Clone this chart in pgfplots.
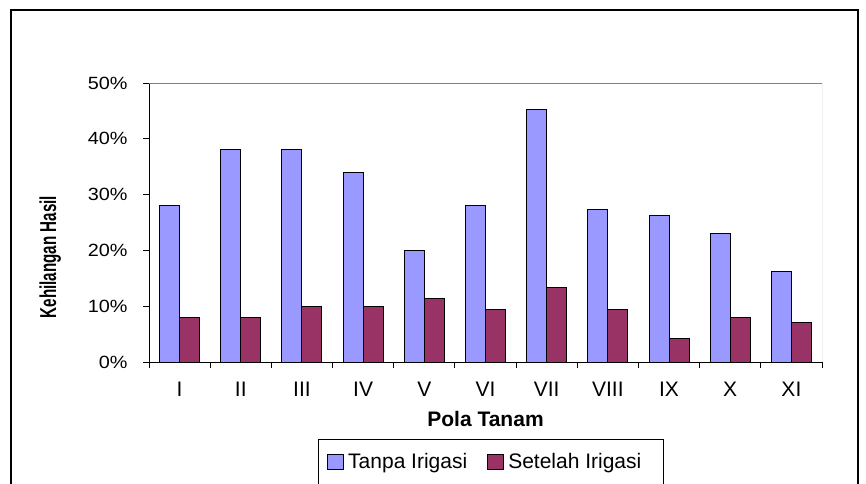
\documentclass[border=0pt]{standalone}
\usepackage{fontspec}
\setmainfont{Liberation Sans}
\newfontfamily\ytfont{Liberation Sans}[FakeStretch=1.12]
\newfontfamily\ylfont{Liberation Sans}[FakeStretch=0.66]
\usepackage{pgfplots}
\pgfplotsset{compat=1.18}
\definecolor{cblue}{HTML}{9999FF}
\definecolor{cmaroon}{HTML}{993366}
\pgfplotsset{sqlegend/.style={legend image code/.code={\draw[##1, line width=0.5pt, draw=black] (0pt,-3.5pt) rectangle (8pt,4pt);}}}
\begin{document}
\begin{tikzpicture}
\useasboundingbox (0,0) rectangle (433pt,-241.5pt);
\clip (0,0) rectangle (433pt,-241.5pt);
\draw[line width=0.65pt] (5.5pt,-260pt) -- (5.5pt,-5pt) -- (429pt,-5pt) -- (429pt,-260pt);
\begin{axis}[
  name=ax,
  at={(74.5pt,-181pt)}, anchor=south west,
  scale only axis, width=336.5pt, height=139.5pt,
  xmin=-0.5, xmax=10.5, ymin=0, ymax=50,
  axis x line*=bottom, axis y line*=left,
  axis line style={line width=0.5pt, -},
  ybar=0pt, bar width=10pt,
  xtick={-0.5,0.5,...,10.5},
  x tick label as interval,
  xticklabels={I,II,III,IV,V,VI,VII,VIII,IX,X,XI},
  ytick={0,10,...,50},
  yticklabels={0\%,10\%,20\%,30\%,40\%,50\%},
  tick align=outside, major tick length=3pt,
  tick style={line width=0.5pt, black},
  x tick label style={font=\fontsize{10.5}{12.5}\selectfont, anchor=north, inner sep=0pt, yshift=-7pt},
  y tick label style={font=\ytfont\fontsize{8.85}{10.5}\selectfont, anchor=east, inner sep=0pt, xshift=-7.5pt},
  xlabel={Pola Tanam},
  xlabel style={font=\bfseries\fontsize{10.5}{12.5}\selectfont, at={(axis description cs:0.5,0)}, anchor=base, yshift=-32pt},
  legend columns=2,
  legend style={at={(axis description cs:0.2507,0)}, anchor=north west, yshift=-38.5pt,
    draw=black, line width=0.5pt, font=\fontsize{10.5}{12.5}\selectfont,
    inner xsep=4.5pt, inner ysep=5pt,
    /tikz/every even column/.append style={column sep=8pt}},
]
\addplot[fill=cblue, draw=black, line width=0.5pt, sqlegend] coordinates {
 (0,28) (1,38) (2,38) (3,34) (4,20) (5,28) (6,45.3) (7,27.4) (8,26.3) (9,23.1) (10,16.3)};
\addplot[fill=cmaroon, draw=black, line width=0.5pt, sqlegend] coordinates {
 (0,8) (1,8) (2,10) (3,10) (4,11.3) (5,9.5) (6,13.4) (7,9.5) (8,4.2) (9,8) (10,7)};
\legend{Tanpa Irigasi, Setelah Irigasi\rule{4.5pt}{0pt}}
\draw[line width=0.5pt, gray] (rel axis cs:0,1) -- (rel axis cs:1,1) -- (rel axis cs:1,0);
\end{axis}
\node[rotate=90, anchor=base, inner sep=0pt, font=\ylfont\bfseries\fontsize{11.5}{13.5}\selectfont]
  at ([xshift=-46.5pt, yshift=52.5pt]ax.south west) {Kehilangan Hasil};
\end{tikzpicture}
\end{document}
